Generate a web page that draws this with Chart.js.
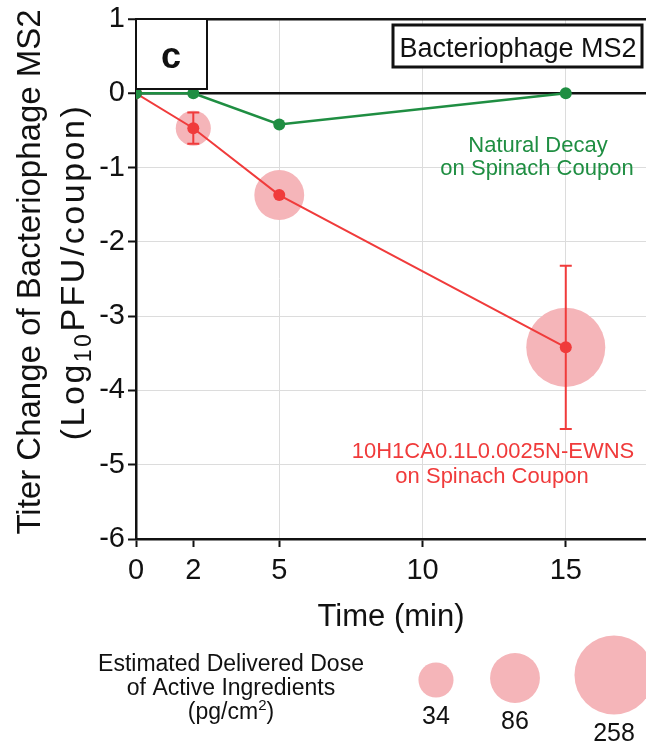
<!DOCTYPE html>
<html>
<head>
<meta charset="utf-8">
<title>Bacteriophage MS2 titer change</title>
<script src="https://cdn.jsdelivr.net/npm/chart.js@4"></script>
<style>
    body { margin: 0; background: #fff; }
    #wrap { width: 646px; height: 742px; }
</style>
</head>
<body>
<div id="wrap"><canvas id="titerChart" width="646" height="742"></canvas></div>
<script>
// Sampling times (min) and titer change (log10 PFU/coupon)
const times = [0, 2, 5, 15];
const naturalDecay = [0, 0, -0.42, 0];
const ewnsTiter = [0, -0.47, -1.37, -3.42];
const ewnsError = [0, 0.21, 0, 1.1];

// Estimated delivered dose of active ingredients (pg/cm2) at each exposure time
const doseTimes = [2, 5, 15];
const doses = [34, 86, 258];

const xTicks = [0, 2, 5, 10, 15];
const yTicks = [-6, -5, -4, -3, -2, -1, 0, 1];

const FONT = "'Liberation Sans', Arial, Helvetica, sans-serif";
const RED = '#f03b3b';
const GREEN = '#1f8e42';
const PINK = '#f5b5b9';
const GRID = '#dcdcdc';

// bubble radius in px for a given dose
function doseRadius(d) {
    return 2.15 * Math.sqrt(d) + 5;
}

function xy(xs, ys) {
    return xs.map((x, i) => ({ x: x, y: ys[i] }));
}

// text with a small raised/lowered part, e.g. Log10 or cm2
function drawParts(ctx, parts, cx, cy) {
    let total = 0;
    parts.forEach(p => {
        ctx.font = p.size + 'px ' + FONT;
        p.w = ctx.measureText(p.text).width;
        total += p.w;
    });
    let x = cx - total / 2;
    ctx.textAlign = 'left';
    parts.forEach(p => {
        ctx.font = p.size + 'px ' + FONT;
        ctx.fillText(p.text, x, cy + (p.dy || 0));
        x += p.w;
    });
}

const errorBars = {
    id: 'errorBars',
    afterDatasetsDraw(chart) {
        const ctx = chart.ctx;
        const xs = chart.scales.x, ys = chart.scales.y;
        ctx.save();
        ctx.strokeStyle = RED;
        ctx.lineWidth = 2;
        times.forEach((t, i) => {
            const e = ewnsError[i];
            if (!e) return;
            const px = xs.getPixelForValue(t);
            const top = ys.getPixelForValue(ewnsTiter[i] + e);
            const bot = ys.getPixelForValue(ewnsTiter[i] - e);
            ctx.beginPath();
            ctx.moveTo(px, top); ctx.lineTo(px, bot);
            ctx.moveTo(px - 6, top); ctx.lineTo(px + 6, top);
            ctx.moveTo(px - 6, bot); ctx.lineTo(px + 6, bot);
            ctx.stroke();
        });
        ctx.restore();
    }
};

const decorations = {
    id: 'decorations',
    afterDraw(chart) {
        const ctx = chart.ctx;
        const area = chart.chartArea;
        ctx.save();
        ctx.textBaseline = 'alphabetic';

        // panel letter box
        ctx.fillStyle = '#fff';
        ctx.fillRect(area.left, area.top, 71, 70);
        ctx.strokeStyle = '#111';
        ctx.lineWidth = 2;
        ctx.strokeRect(area.left, area.top, 71, 70);
        ctx.fillStyle = '#111';
        ctx.font = 'bold 36px ' + FONT;
        ctx.textAlign = 'center';
        ctx.fillText('c', area.left + 35, area.top + 49);

        // organism box
        ctx.fillStyle = '#fff';
        ctx.fillRect(393, 25, 249, 42);
        ctx.lineWidth = 3;
        ctx.strokeRect(393, 25, 249, 42);
        ctx.fillStyle = '#111';
        ctx.font = '27px ' + FONT;
        ctx.fillText('Bacteriophage MS2', 518, 57);

        // series labels
        ctx.font = '22px ' + FONT;
        ctx.fillStyle = GREEN;
        ctx.fillText('Natural Decay', 538, 152);
        ctx.fillText('on Spinach Coupon', 537, 175);
        ctx.fillStyle = RED;
        ctx.fillText('10H1CA0.1L0.0025N-EWNS', 493, 458);
        ctx.fillText('on Spinach Coupon', 492, 483);

        // axis titles
        ctx.fillStyle = '#111';
        ctx.font = '31px ' + FONT;
        ctx.fillText('Time (min)', (area.left + area.right) / 2, 626);

        ctx.save();
        ctx.translate(0, 272);
        ctx.rotate(-Math.PI / 2);
        ctx.font = '33px ' + FONT;
        ctx.fillText('Titer Change of Bacteriophage MS2', 0, 40);
        ctx.letterSpacing = '2.5px';
        drawParts(ctx, [
            { text: '(Log', size: 34 },
            { text: '10', size: 23, dy: 7 },
            { text: 'PFU/coupon)', size: 34 }
        ], 0, 84);
        ctx.letterSpacing = '0px';
        ctx.restore();

        // dose legend
        ctx.textAlign = 'center';
        ctx.font = '23px ' + FONT;
        ctx.fillText('Estimated Delivered Dose', 231, 671);
        ctx.fillText('of Active Ingredients', 231, 695);
        drawParts(ctx, [
            { text: '(pg/cm', size: 23 },
            { text: '2', size: 15, dy: -9 },
            { text: ')', size: 23 }
        ], 231, 719);

        const legendX = [436, 515, 614];
        const legendY = [680, 678, 675];
        doses.forEach((d, i) => {
            const r = doseRadius(d);
            ctx.fillStyle = PINK;
            ctx.beginPath();
            ctx.arc(legendX[i], legendY[i], r, 0, Math.PI * 2);
            ctx.fill();
            ctx.fillStyle = '#111';
            ctx.font = '25px ' + FONT;
            ctx.textAlign = 'center';
            ctx.fillText(String(d), legendX[i], legendY[i] + r + 26);
        });
        ctx.restore();
    }
};

new Chart(document.getElementById('titerChart'), {
    type: 'scatter',
    data: {
        datasets: [
            {
                type: 'line',
                data: xy(times, naturalDecay),
                borderColor: GREEN,
                backgroundColor: GREEN,
                borderWidth: 2.5,
                pointRadius: 6,
                pointBorderWidth: 0,
                tension: 0,
                order: 0
            },
            {
                type: 'line',
                data: xy(times, ewnsTiter),
                borderColor: RED,
                backgroundColor: RED,
                borderWidth: 2,
                pointRadius: 6,
                pointBorderWidth: 0,
                tension: 0,
                order: 1
            },
            {
                type: 'bubble',
                data: doseTimes.map((t, i) => ({
                    x: t,
                    y: ewnsTiter[times.indexOf(t)],
                    r: doseRadius(doses[i])
                })),
                backgroundColor: PINK,
                borderWidth: 0,
                hoverRadius: 0,
                order: 2
            }
        ]
    },
    options: {
        responsive: false,
        animation: false,
        events: [],
        layout: { autoPadding: false, padding: { top: 19, right: 0, left: 0, bottom: 0 } },
        plugins: {
            legend: { display: false },
            tooltip: { enabled: false }
        },
        scales: {
            x: {
                type: 'linear',
                min: 0,
                max: 17.8,
                afterBuildTicks: s => { s.ticks = xTicks.map(v => ({ value: v })); },
                afterFit: s => {
                    s.height = 203;
                    s.paddingLeft = 0;
                    s.paddingRight = 0;
                },
                border: { color: '#111', width: 2.5 },
                grid: {
                    color: c => (c.tick && c.tick.value >= 5 ? GRID : 'rgba(0,0,0,0)'),
                    lineWidth: 1,
                    tickLength: 8,
                    tickColor: '#111',
                    tickWidth: 2
                },
                ticks: {
                    color: '#111',
                    padding: 7,
                    maxRotation: 0,
                    font: { family: FONT, size: 29 }
                }
            },
            y: {
                type: 'linear',
                min: -6,
                max: 1,
                afterBuildTicks: s => { s.ticks = yTicks.map(v => ({ value: v })); },
                afterFit: s => {
                    s.width = 136;
                    s.paddingTop = 0;
                    s.paddingBottom = 0;
                },
                border: { color: '#111', width: 2.5 },
                grid: {
                    color: c => (c.tick && (c.tick.value === 0 || c.tick.value === 1 || c.tick.value === -6) ? '#111' : GRID),
                    lineWidth: c => (c.tick && (c.tick.value === 0 || c.tick.value === 1) ? 2.5 : 1),
                    tickLength: 8,
                    tickColor: '#111',
                    tickWidth: 2
                },
                ticks: {
                    color: '#111',
                    padding: 3,
                    font: { family: FONT, size: 29 }
                }
            }
        }
    },
    plugins: [errorBars, decorations]
});
</script>
</body>
</html>
